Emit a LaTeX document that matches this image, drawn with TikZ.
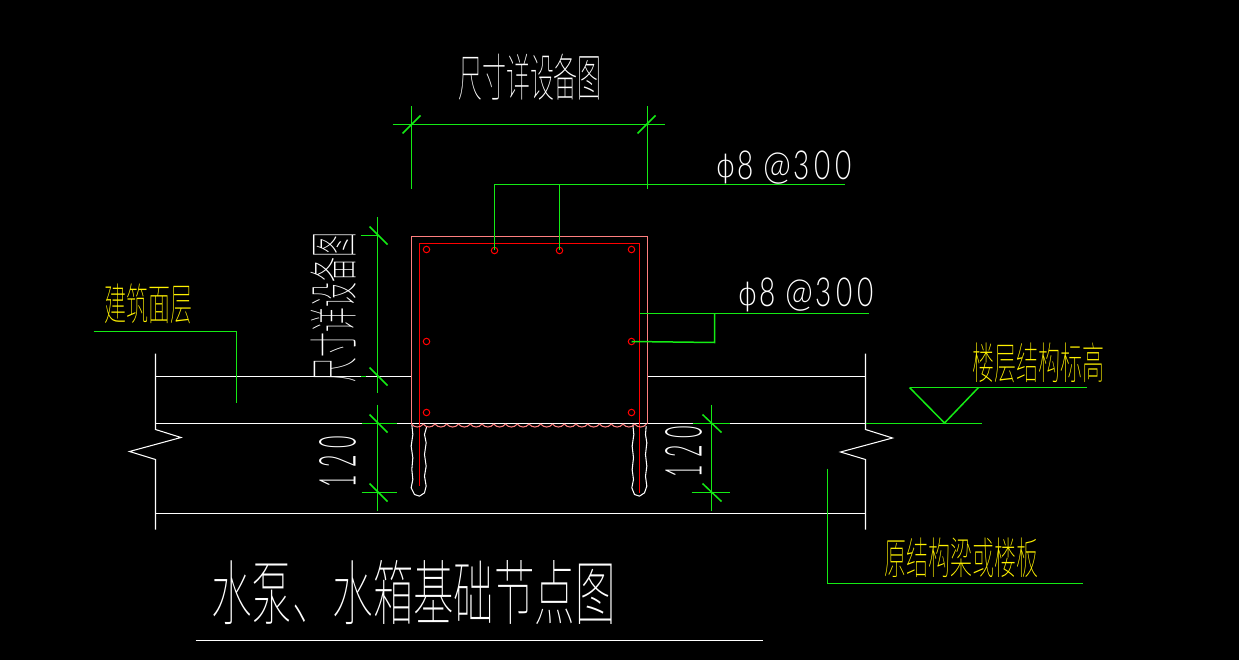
\documentclass[tikz,border=0pt]{standalone}
\usepackage{graphicx}
\usepackage{fontspec}
\newfontfamily\cjk{Noto Sans CJK SC Thin}
\newfontfamily\lat{Lato Light}
\newfontfamily\djv{DejaVu Sans ExtraLight}
\definecolor{gr}{RGB}{20,235,20}
\definecolor{pk}{RGB}{255,128,128}
\definecolor{rd}{RGB}{255,0,0}
\tikzset{
 wl/.style={draw=white,line width=1.05pt},
 gl/.style={draw=gr,line width=1.5pt},
 pl/.style={draw=pk,line width=1.3pt},
 rl/.style={draw=rd,line width=1.4pt},
 bar/.style={draw=rd,line width=1pt,circle,inner sep=0pt,minimum size=6.5pt},
 yt/.style={text=yellow,inner sep=0pt,font=\cjk\fontsize{44}{44}\selectfont,xscale=.5},
 wt/.style={text=white,inner sep=0pt},
 dimt/.style={text=white,inner sep=0pt,font=\lat\fontsize{40}{40}\selectfont,xscale=.7},
 phit/.style={text=white,inner sep=0pt,font=\djv\fontsize{31}{31}\selectfont},
 numt/.style={text=white,inner sep=0pt,font=\lat\fontsize{51}{51}\selectfont,rotate=90,xscale=.42},
}
\newcommand{\dimlabel}{8\kern14pt \scalebox{1.2}[1]{@}\kern3pt 3\kern7pt 0\kern7pt 0}
\begin{document}
\begin{tikzpicture}[x=1pt,y=-1pt]
\useasboundingbox[fill=black] (0,0) rectangle (1239,660);
\begin{scope}[shift={(-.5,-.5)}]
% concrete
\draw[wl] (156,377) -- (412,377);
\draw[wl] (648,377) -- (866,377);
\draw[wl] (156,424) -- (866,424);
\draw[wl] (156,514) -- (866,514);
\draw[wl] (156,354) -- (156,430) -- (181.5,438) -- (130,452) -- (156,460) -- (156,530);
\draw[wl] (866,354) -- (866,430) -- (893,438.5) -- (841,452.5) -- (866,460) -- (866,530);
\draw[wl] (196,641) -- (763,641);
% wavy bars
\begin{scope}[x=1pt/3,y=-1pt/3,shift={(1140,1140)}]
\draw[wl] (97,135)--(100,165)--(95,200)--(100,235)--(97,270)--(100,300)--(95,325)--(105,345)--(120,350)--(135,340)--(140,320)--(135,290)--(140,260)--(135,225)--(140,190)--(135,165)--(142,140);
\draw[wl] (760,135)--(763,165)--(758,200)--(762,235)--(758,270)--(762,300)--(757,325)--(765,345)--(780,350)--(795,340)--(802,320)--(798,290)--(802,260)--(798,225)--(802,190)--(798,165)--(800,140);
\end{scope}
% pedestal
\draw[pl] (412,424) -- (412,237) -- (648,237) -- (648,424);
\draw[rl] (420,486) -- (420,244) -- (640,244) -- (640,493);
\foreach \i in {0,...,19}{
 \draw[pl,line width=1.05pt] ({412+11.75*\i},424.5) .. controls ({415+11.75*\i},428.5) and ({420.75+11.75*\i},428.5) .. ({423.75+11.75*\i},424.5);
}
\node[bar] (b1) at (427,250) {};
\node[bar] (b2) at (495,251) {};
\node[bar] (b3) at (560,251) {};
\node[bar] (b4) at (632,250) {};
\node[bar] (b5) at (427,342) {};
\node[bar] (b6) at (632,342) {};
\node[bar] (b7) at (427,413) {};
\node[bar] (b8) at (632,413) {};
% top dimension
\draw[gl] (393,125) -- (665,125);
\draw[gl] (412,107) -- (412,190);
\draw[gl] (648,107) -- (648,190);
\draw[gl] (403,134) -- (421,116);
\draw[gl] (638,134) -- (656,116);
% left dimensions
\draw[gl] (378,218) -- (378,393);
\draw[gl] (361,236) -- (378,236);
\draw[gl] (370,227) -- (388,245);
\draw[gl] (361,377) -- (366,377);
\draw[gl] (370,368) -- (388,386);
\draw[gl] (378,405) -- (378,511);
\draw[gl] (362,424) -- (397,424);
\draw[gl] (362,493) -- (397,493);
\draw[gl] (370,415) -- (388,433);
\draw[gl] (370,484) -- (388,502);
% right dimension
\draw[gl] (712,405) -- (712,511);
\draw[gl] (693,424) -- (730,424);
\draw[gl] (692,493) -- (730,493);
\draw[gl] (703,415) -- (722,433);
\draw[gl] (703,484) -- (722,502);
% leaders
\draw[gl] (b2.center) -- (495,185) -- (845,185);
\draw[gl] (b3.center) -- (560,185);
\draw[gl] (640,314) -- (869,314);
\draw[gl] (715,314) -- (715,343) -- (b6.center);
\draw[gl] (94,332) -- (237,332) -- (237,403);
\draw[gl] (828,469) -- (828,584) -- (1083,584);
\draw[gl] (866,424) -- (982,424);
\draw[gl] (910,388) -- (945,423.5) -- (979,388);
\draw[gl] (910,388) -- (1087,388);
% texts
\node[wt,font=\cjk\fontsize{51}{51}\selectfont,xscale=.47] (t1) at (530.5,78) {尺寸详设备图};
\node[wt,font=\cjk\fontsize{50}{50}\selectfont,rotate=90,xscale=.5] (t2) at (334,307.5) {尺寸详设备图};
\node[yt] (t3) at (148.5,304) {建筑面层};
\node[yt] (t4) at (1038.5,363.5) {楼层结构标高};
\node[yt] (t5) at (961.5,558) {原结构梁或楼板};
\node[wt,font=\cjk\fontsize{71}{71}\selectfont,xscale=.57] (t6) at (414,593) {水泵、水箱基础节点图};
\node[phit] (p1) at (726,170) {ϕ};
\node[phit] (p2) at (748,298) {ϕ};
\node[dimt,anchor=base west] (d1) at (738,180) {\dimlabel};
\node[dimt,anchor=base west] (d2) at (760,307) {\dimlabel};
\node[numt] (d3) at (338,462) {1\kern17pt 2\kern17pt 0};
\node[numt] (d4) at (684,452) {1\kern17pt 2\kern17pt 0};
\end{scope}
\end{tikzpicture}
\end{document}
